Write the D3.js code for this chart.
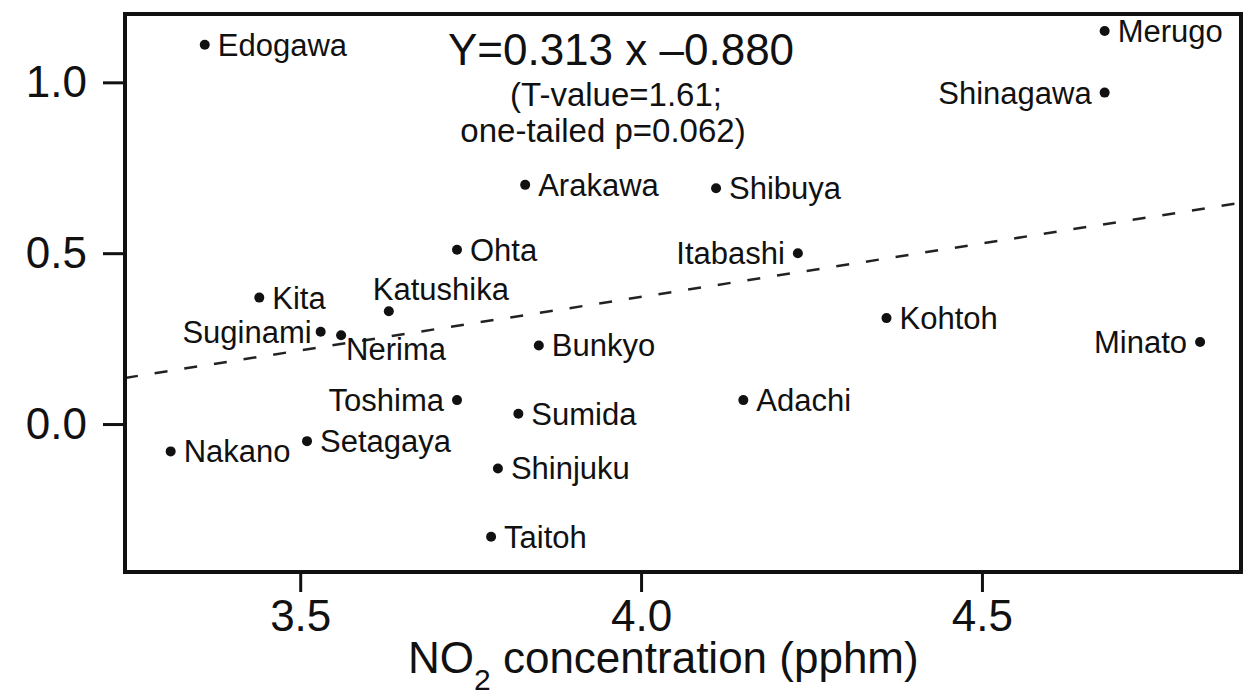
<!DOCTYPE html>
<html>
<head>
<meta charset="utf-8">
<script src="https://cdn.jsdelivr.net/npm/d3@7"></script>
<style>
  html, body { margin: 0; padding: 0; background: #fff; }
  svg { display: block; }
  text { font-family: "Liberation Sans", Arial, Helvetica, sans-serif; fill: #111; }
</style>
</head>
<body>
<svg id="chart" width="1253" height="699"></svg>
<script>
// ---- data ----
const wards = ["Edogawa","Merugo","Shinagawa","Arakawa","Shibuya","Ohta","Itabashi","Kita","Katushika",
  "Suginami","Nerima","Kohtoh","Minato","Bunkyo","Toshima","Adachi","Sumida","Setagaya","Nakano","Shinjuku","Taitoh"];
const no2 = [3.36, 4.68, 4.68, 3.83, 4.11, 3.73, 4.23, 3.44, 3.63,
  3.53, 3.56, 4.36, 4.82, 3.85, 3.73, 4.15, 3.82, 3.51, 3.31, 3.79, 3.78];
const change = [1.11, 1.15, 0.97, 0.70, 0.69, 0.51, 0.50, 0.37, 0.33,
  0.27, 0.26, 0.31, 0.24, 0.23, 0.07, 0.07, 0.03, -0.05, -0.08, -0.13, -0.33];
const xTicks = [3.5, 4.0, 4.5];
const yTicks = [0.0, 0.5, 1.0];
const regSlope = 0.313;
const regIntercept = -0.880;
const eqLines = ["Y=0.313 x \u20130.880", "(T-value=1.61;", "one-tailed p=0.062)"];
const xTitle = ["NO", "2", " concentration (pphm)"];

// ---- layout ----
const L = 125, R = 1241, T = 14, B = 572;
const x = d3.scaleLinear().domain([3.243, 4.880]).range([L, R]);
const y = d3.scaleLinear().domain([-0.433, 1.20]).range([B, T]);

const svg = d3.select("#chart");

// label placement (layout only)
const place = {
  Shinagawa: {dx: -13, dy: 11, a: "end"},
  Itabashi: {dx: -13, dy: 11, a: "end"},
  Toshima: {dx: -13, dy: 11, a: "end"},
  Minato: {dx: -13, dy: 11, a: "end"},
  Suginami: {dx: -9, dy: 11, a: "end"},
  Nerima: {dx: 5, dy: 25, a: "start"},
  Katushika: {dx: -16, dy: -11, a: "start"}
};

// regression line (dashed)
const xd = x.domain();
svg.append("line")
  .attr("x1", x(xd[0])).attr("y1", y(regSlope * xd[0] + regIntercept))
  .attr("x2", x(xd[1])).attr("y2", y(regSlope * xd[1] + regIntercept))
  .attr("stroke", "#222").attr("stroke-width", 2.5)
  .attr("stroke-dasharray", "13,17");

// axes
const xAxis = d3.axisBottom(x).tickValues(xTicks).tickFormat(d3.format(".1f")).tickSize(20).tickPadding(8);
const gx = svg.append("g").attr("transform", `translate(0,${B})`).call(xAxis);
gx.select(".domain").remove();
gx.selectAll(".tick line").attr("stroke", "#111").attr("stroke-width", 3);
gx.selectAll(".tick text").attr("font-size", 44).attr("font-family", "Liberation Sans, Arial, sans-serif").attr("fill", "#111");

const yAxis = d3.axisLeft(y).tickValues(yTicks).tickFormat(d3.format(".1f")).tickSize(22).tickPadding(16);
const gy = svg.append("g").attr("transform", `translate(${L},0)`).call(yAxis);
gy.select(".domain").remove();
gy.selectAll(".tick line").attr("stroke", "#111").attr("stroke-width", 3);
gy.selectAll(".tick text").attr("font-size", 44).attr("font-family", "Liberation Sans, Arial, sans-serif").attr("fill", "#111");

// frame
svg.append("rect").attr("x", L).attr("y", T).attr("width", R - L).attr("height", B - T)
  .attr("fill", "none").attr("stroke", "#111").attr("stroke-width", 4);

// points
const pts = wards.map((w, i) => ({w, x: no2[i], y: change[i]}));
svg.append("g").selectAll("circle").data(pts).join("circle")
  .attr("cx", d => x(d.x)).attr("cy", d => y(d.y)).attr("r", 5).attr("fill", "#111");

svg.append("g").selectAll("text").data(pts).join("text")
  .attr("x", d => x(d.x) + (place[d.w] ? place[d.w].dx : 13))
  .attr("y", d => y(d.y) + (place[d.w] ? place[d.w].dy : 11))
  .attr("text-anchor", d => place[d.w] ? place[d.w].a : "start")
  .attr("font-size", 31)
  .text(d => d.w);

// equation
const eqPos = [[621, 65, 44], [616, 106, 33], [603, 142, 33]];
svg.append("g").selectAll("text").data(eqLines).join("text")
  .attr("x", (d, i) => eqPos[i][0]).attr("y", (d, i) => eqPos[i][1])
  .attr("text-anchor", "middle").attr("font-size", (d, i) => eqPos[i][2])
  .text(d => d);

// x-axis title
const t = svg.append("text").attr("x", 408).attr("y", 673).attr("text-anchor", "start").attr("font-size", 44);
t.append("tspan").text(xTitle[0]);
t.append("tspan").attr("dy", 17).attr("font-size", 30).text(xTitle[1]);
t.append("tspan").attr("dy", -17).text(xTitle[2]);
</script>
</body>
</html>
